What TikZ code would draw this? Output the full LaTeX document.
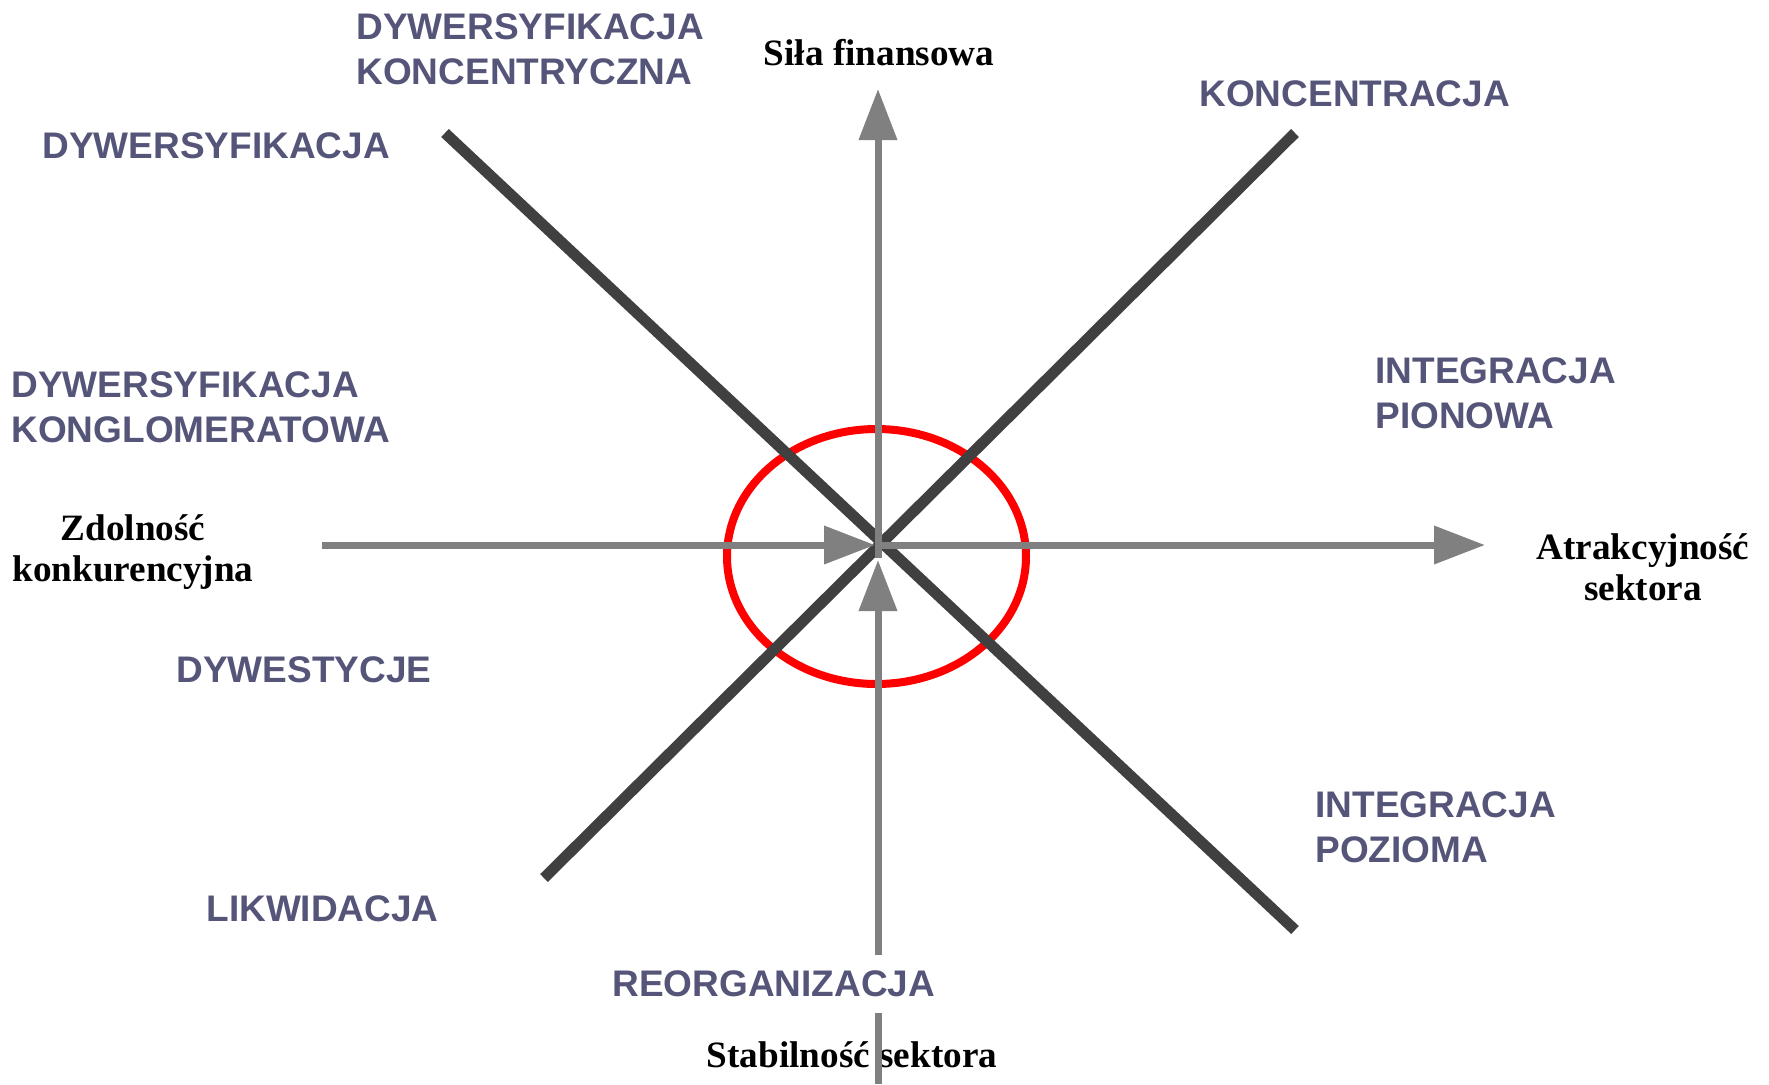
\documentclass[tikz,border=0pt]{standalone}
\usepackage{fontspec}
\setmainfont{Liberation Serif}
\setsansfont{Liberation Sans}
\usetikzlibrary{arrows.meta}
\definecolor{napis}{HTML}{55557A}
\definecolor{szary}{HTML}{808080}
\definecolor{grafit}{HTML}{404040}
\definecolor{czerwien}{HTML}{FF0000}
\tikzset{
  strategia/.style={font=\sffamily\bfseries\fontsize{18.5}{22.5}\selectfont,text=napis,inner sep=0pt,align=left,anchor=west},
  opis/.style={font=\bfseries\fontsize{18.6}{20.5}\selectfont,text=black,inner sep=0pt,align=center,anchor=base},
  strzalka/.style={-{Triangle[length=25.5pt,width=18.5pt]},line width=3.5pt,color=szary},
  ramie/.style={line width=5.5pt,color=grafit},
}
\begin{document}
\begin{tikzpicture}[x=0.5pt,y=-0.5pt]
  \useasboundingbox (0,0) rectangle (1769,1084);
  % osie i przekatne
  \coordinate (srodek) at (878,545);
  \coordinate (zachod) at (322,545);
  \coordinate (zachodgrot) at (875,545);
  \coordinate (wschodstart) at (881,545);
  \coordinate (wschod) at (1485,545);
  \coordinate (polnocstart) at (878,558);
  \coordinate (polnoc) at (878,89);
  \coordinate (poludnie) at (878,1084);
  \coordinate (poludniegrot) at (878,560);
  \coordinate (lg) at (445,133);
  \coordinate (pd) at (1295,930);
  \coordinate (pg) at (1295,133);
  \coordinate (ld) at (544,878);

  \node[opis] (stabilnosc) at (852,1067) {Stabilność sektora};
  \node[opis] (sila) at (879,65) {Siła finansowa};
  \node[opis] (zdolnosc) at (133,581) {Zdolność\\konkurencyjna};
  \node[opis] (atrakcyjnosc) at (1643,600) {Atrakcyjność\\sektora};

  \draw[czerwien,line width=4pt] (876.5,556.5) ellipse [x radius=74.75pt,y radius=63.75pt];
  \draw[ramie] (lg) -- (pd);
  \draw[ramie] (ld) -- (pg);
  \draw[strzalka] (zachod) -- (zachodgrot);
  \draw[strzalka] (wschodstart) -- (wschod);
  \draw[strzalka] (polnocstart) -- (polnoc);
  \draw[strzalka] (poludnie) -- (poludniegrot);

  \node[strategia] (dywkonc) at (356,49) {DYWERSYFIKACJA\\KONCENTRYCZNA};
  \node[strategia] (dyw) at (42,146) {DYWERSYFIKACJA};
  \node[strategia] (konc) at (1199,94) {KONCENTRACJA};
  \node[strategia] (intpion) at (1375,393) {INTEGRACJA\\PIONOWA};
  \node[strategia] (dywkongl) at (11,407.5) {DYWERSYFIKACJA\\KONGLOMERATOWA};
  \node[strategia] (dywest) at (176,670) {DYWESTYCJE};
  \node[strategia] (likw) at (206,909) {LIKWIDACJA};
  \node[strategia,fill=white,inner ysep=8pt] (reorg) at (612,984) {REORGANIZACJA};
  \node[strategia] (intpoz) at (1315,827) {INTEGRACJA\\POZIOMA};
\end{tikzpicture}
\end{document}
